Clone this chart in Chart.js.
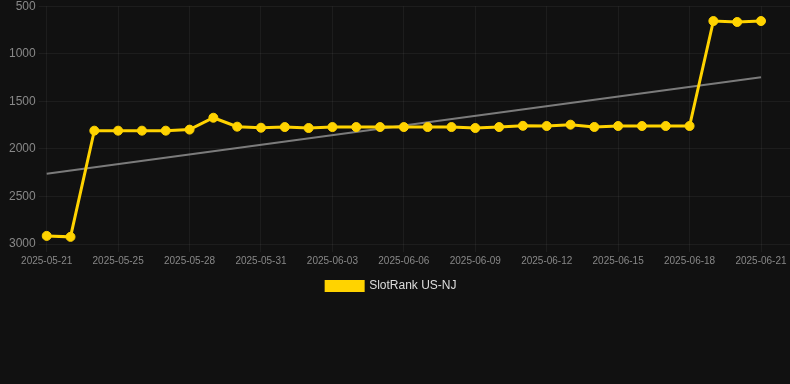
<!DOCTYPE html>
<html>
<head>
<meta charset="utf-8">
<script src="https://cdn.jsdelivr.net/npm/chart.js@4/dist/chart.umd.min.js"></script>
<style>
  html, body { margin: 0; padding: 0; background: #111111; }
  #wrap { width: 790px; height: 302px; position: relative; }
</style>
</head>
<body>
<div id="wrap"><canvas id="chart"></canvas></div>
<script>
// 横軸の日付ラベル
const labels = [
  '2025-05-21', '2025-05-23', '2025-05-24', '2025-05-25', '2025-05-26', '2025-05-27',
  '2025-05-28', '2025-05-29', '2025-05-30', '2025-05-31', '2025-06-01', '2025-06-02',
  '2025-06-03', '2025-06-04', '2025-06-05', '2025-06-06', '2025-06-07', '2025-06-08',
  '2025-06-09', '2025-06-10', '2025-06-11', '2025-06-12', '2025-06-13', '2025-06-14',
  '2025-06-15', '2025-06-16', '2025-06-17', '2025-06-18', '2025-06-19', '2025-06-20',
  '2025-06-21',
];

// ランク値
const rankValues = [
  2915, 2925, 1808, 1808, 1808, 1808, 1797, 1672, 1766, 1777, 1770, 1780,
  1770, 1770, 1770, 1770, 1770, 1770, 1780, 1770, 1757, 1759, 1745, 1769,
  1759, 1759, 1759, 1759, 655, 665, 655,
];

// トレンド線（始点と終点のみ）
const trendValues = [2262, null, null, null, null, null, null, null, null, null, null, null,
  null, null, null, null, null, null, null, null, null, null, null, null,
  null, null, null, null, null, null, 1246];

const yTicks = [500, 1000, 1500, 2000, 2500, 3000];

const gridColor = 'rgba(255,255,255,0.05)';

new Chart(document.getElementById('chart'), {
  type: 'line',
  data: {
    labels: labels,
    datasets: [
      {
        label: 'SlotRank US-NJ',
        data: rankValues,
        borderColor: '#FFD300',
        backgroundColor: '#FFD300',
        borderWidth: 3,
        pointRadius: 4.5,
        pointBorderWidth: 1,
        pointBackgroundColor: '#FFD300',
        pointBorderColor: '#FFD300',
        tension: 0,
      },
      {
        label: 'trend',
        data: trendValues,
        borderColor: 'rgba(150,150,150,0.8)',
        borderWidth: 2,
        pointRadius: 0,
        spanGaps: true,
      },
    ],
  },
  options: {
    responsive: true,
    maintainAspectRatio: false,
    animation: false,
    layout: { padding: { left: 6, right: 0, top: 0, bottom: 0 } },
    scales: {
      x: {
        grid: { color: gridColor },
        border: { display: false },
        ticks: {
          color: '#888888',
          font: { family: 'Liberation Sans, Arial', size: 10 },
          maxRotation: 0,
          autoSkip: true,
        },
      },
      y: {
        reverse: true,
        min: 500,
        max: 3000,
        afterBuildTicks: (axis) => { axis.ticks = yTicks.map(v => ({ value: v })); },
        grid: { color: gridColor },
        border: { display: false },
        ticks: {
          color: '#888888',
          font: { family: 'Liberation Sans, Arial', size: 12, lineHeight: 0.55 },
          callback: (v) => String(v),
        },
      },
      // 右端まで横グリッドを伸ばすための補助軸
      y1: {
        position: 'right',
        reverse: true,
        min: 500,
        max: 3000,
        afterBuildTicks: (axis) => { axis.ticks = yTicks.map(v => ({ value: v })); },
        grid: { color: gridColor, drawOnChartArea: false, tickLength: 29 },
        border: { display: false },
        ticks: { display: false },
      },
    },
    plugins: {
      legend: {
        position: 'bottom',
        labels: {
          color: '#dddddd',
          font: { family: 'Liberation Sans, Arial', size: 12 },
          boxWidth: 37,
          boxHeight: 9,
          filter: (item) => item.text !== 'trend',
          generateLabels: (chart) => {
            const items = Chart.defaults.plugins.legend.labels.generateLabels(chart);
            items.forEach(it => { if (it.text !== 'trend') it.text = it.text + '    '; });
            return items;
          },
        },
      },
      tooltip: { enabled: false },
    },
  },
});
</script>
</body>
</html>
